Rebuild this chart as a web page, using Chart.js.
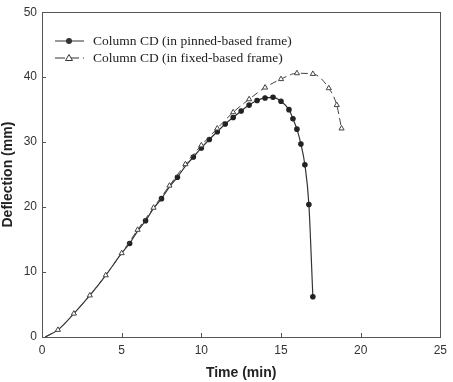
<!DOCTYPE html>
<html>
<head>
<meta charset="utf-8">
<script src="https://cdn.jsdelivr.net/npm/chart.js@4"></script>
<style>
  html, body { margin: 0; padding: 0; background: #fff; }
  #wrap { width: 453px; height: 382px; }
</style>
</head>
<body>
<div id="wrap"><canvas id="deflChart" width="453" height="382"></canvas></div>
<script>
// pinned-based frame, column CD
const pinnedTime = [0.2, 1, 2, 3, 4, 5, 5.5, 6, 6.5, 7, 7.5, 8, 8.5, 9, 9.5, 10, 10.5, 11, 11.5, 12,
  12.5, 13, 13.5, 14, 14.5, 15, 15.5, 15.75, 16, 16.25, 16.5, 16.75, 17];
const pinnedDefl = [0, 1.1, 3.6, 6.4, 9.5, 12.9, 14.4, 16.3, 17.9, 19.8, 21.3, 23.1, 24.6, 26.3, 27.7, 29.1,
  30.4, 31.6, 32.8, 33.8, 34.8, 35.7, 36.4, 36.8, 36.9, 36.3, 35.0, 33.6, 32.0, 29.7, 26.5, 20.4, 6.2];

// fixed-based frame, column CD
const fixedTime = [0.2, 1, 2, 3, 4, 5, 6, 7, 8, 9, 10, 11, 12, 13, 14, 15, 16, 17, 18, 18.5, 18.8];
const fixedDefl = [0, 1.1, 3.6, 6.4, 9.5, 12.9, 16.5, 19.9, 23.3, 26.6, 29.5, 32.1, 34.6, 36.6, 38.4,
  39.7, 40.6, 40.5, 38.3, 35.7, 32.1];

const xTicks = [0, 5, 10, 15, 20, 25];
const yTicks = [0, 10, 20, 30, 40, 50];

const legendLabels = ["Column CD (in pinned-based frame)", "Column CD (in fixed-based frame)"];

const ink = "#333";

const toPts = (xs, ys) => xs.map((x, i) => ({ x: x, y: ys[i] }));

// box around the plot + inward tick marks
const framePlugin = {
  id: "frame",
  afterDraw(chart) {
    const c = chart.ctx, a = chart.chartArea;
    const xs = chart.scales.x, ys = chart.scales.y;
    c.save();
    c.strokeStyle = "#555";
    c.lineWidth = 1;
    c.strokeRect(Math.round(a.left) + 0.5, Math.round(a.top) + 0.5,
      Math.round(a.right - a.left), Math.round(a.bottom - a.top));
    c.beginPath();
    xTicks.forEach(t => {
      const px = Math.round(xs.getPixelForValue(t)) + 0.5;
      c.moveTo(px, a.bottom); c.lineTo(px, a.bottom - 4);
    });
    yTicks.forEach(t => {
      const py = Math.round(ys.getPixelForValue(t)) + 0.5;
      c.moveTo(a.left, py); c.lineTo(a.left + 4, py);
    });
    c.stroke();
    c.restore();
  }
};

// legend drawn inside the plot, top-left
const legendPlugin = {
  id: "innerLegend",
  afterDraw(chart) {
    const c = chart.ctx;
    c.save();
    c.strokeStyle = ink;
    c.fillStyle = ink;
    c.lineWidth = 1;
    // row 1: solid line, filled dot
    let y = 41;
    c.beginPath(); c.moveTo(55, y); c.lineTo(84, y); c.stroke();
    c.beginPath(); c.arc(69, y, 3, 0, Math.PI * 2); c.fill();
    // row 2: dashed line, open triangle
    y = 58;
    c.setLineDash([10, 4]);
    c.beginPath(); c.moveTo(55, y); c.lineTo(84, y); c.stroke();
    c.setLineDash([]);
    c.fillStyle = "#fff";
    c.beginPath(); c.moveTo(69, y - 3.5); c.lineTo(72.5, y + 2.5); c.lineTo(65.5, y + 2.5); c.closePath();
    c.fill(); c.stroke();
    c.fillStyle = "#222";
    c.font = "13.5px 'Liberation Serif', serif";
    c.textBaseline = "middle";
    c.fillText(legendLabels[0], 93, 41);
    c.fillText(legendLabels[1], 93, 58);
    c.restore();
  }
};

new Chart(document.getElementById("deflChart"), {
  type: "line",
  data: {
    datasets: [
      {
        label: legendLabels[1],
        data: toPts(fixedTime, fixedDefl),
        borderColor: "#444",
        borderWidth: 1,
        borderDash: [7, 4],
        backgroundColor: "#fff",
        pointStyle: "triangle",
        pointRadius: ctx => (ctx.raw && ctx.raw.x < 0.5 ? 0 : 3),
        pointBorderColor: "#444",
        pointBorderWidth: 1,
        pointBackgroundColor: "#fff",
        cubicInterpolationMode: "monotone",
        order: 1
      },
      {
        label: legendLabels[0],
        data: toPts(pinnedTime, pinnedDefl),
        borderColor: "#333",
        borderWidth: 1.2,
        backgroundColor: "#222",
        pointStyle: "circle",
        // markers at whole minutes are hidden under the fixed-frame triangles
        pointRadius: ctx => (ctx.raw && (ctx.raw.x < 0.5 || (ctx.raw.x <= 9 && Number.isInteger(ctx.raw.x))) ? 0 : 2.2),
        pointBackgroundColor: "#222",
        pointBorderColor: "#222",
        cubicInterpolationMode: "monotone",
        order: 2
      }
    ]
  },
  options: {
    responsive: false,
    animation: false,
    events: [],
    layout: { padding: { left: 0, right: 9, top: 10, bottom: 0 } },
    plugins: {
      legend: { display: false },
      tooltip: { enabled: false }
    },
    scales: {
      x: {
        type: "linear",
        min: 0,
        max: 25,
        afterBuildTicks: s => { s.ticks = xTicks.map(v => ({ value: v })); },
        afterFit: s => { s.height = 45; },
        grid: { display: false, drawTicks: false },
        border: { display: false },
        ticks: { color: ink, padding: 6, font: { family: "'Liberation Sans', Arial, sans-serif", size: 12 } },
        title: {
          display: true,
          text: "Time (min)",
          color: "#222",
          padding: { top: 4, bottom: 0 },
          font: { family: "'Liberation Sans', Arial, sans-serif", size: 14, weight: "bold" }
        }
      },
      y: {
        min: 0,
        max: 50,
        afterBuildTicks: s => { s.ticks = yTicks.map(v => ({ value: v })); },
        afterFit: s => { s.width = 42; },
        grid: { display: false, drawTicks: false },
        border: { display: false },
        ticks: { color: ink, padding: 5, font: { family: "'Liberation Sans', Arial, sans-serif", size: 12 } },
        title: {
          display: true,
          text: "Deflection (mm)",
          color: "#222",
          padding: { top: 0, bottom: 0 },
          font: { family: "'Liberation Sans', Arial, sans-serif", size: 14, weight: "bold" }
        }
      }
    }
  },
  plugins: [framePlugin, legendPlugin]
});
</script>
</body>
</html>
